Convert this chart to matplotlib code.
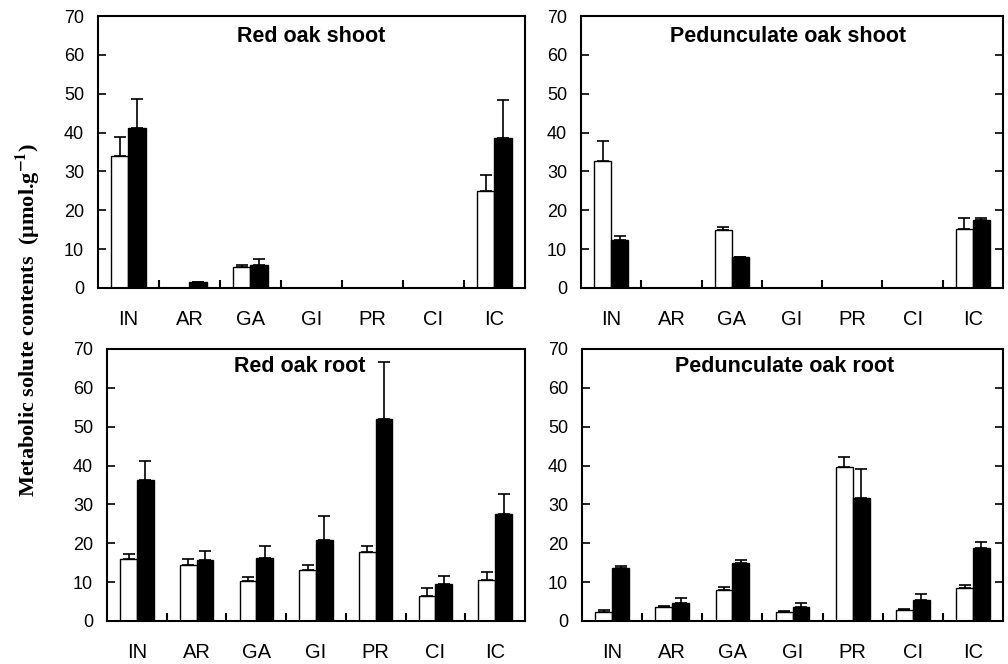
import numpy as np
import matplotlib
matplotlib.use("Agg")
from matplotlib import pyplot as plt

solutes = ['IN', 'AR', 'GA', 'GI', 'PR', 'CI', 'IC']

# white = first treatment, black = second treatment; *_err = upper SE
red_shoot_white = [34.0, 0, 5.4, 0, 0, 0, 25.0]
red_shoot_white_err = [4.9, 0, 0.6, 0, 0, 0, 4.1]
red_shoot_black = [41.1, 1.5, 6.0, 0, 0, 0, 38.7]
red_shoot_black_err = [7.6, 0.1, 1.4, 0, 0, 0, 9.8]

ped_shoot_white = [32.6, 0, 14.8, 0, 0, 0, 15.1]
ped_shoot_white_err = [5.2, 0, 0.9, 0, 0, 0, 2.9]
ped_shoot_black = [12.4, 0, 7.9, 0, 0, 0, 17.4]
ped_shoot_black_err = [1.0, 0, 0.2, 0, 0, 0, 0.6]

red_root_white = [16.0, 14.5, 10.3, 13.1, 17.7, 6.4, 10.6]
red_root_white_err = [1.3, 1.4, 1.0, 1.4, 1.6, 2.2, 2.1]
red_root_black = [36.3, 15.6, 16.3, 20.8, 52.1, 9.6, 27.5]
red_root_black_err = [4.8, 2.4, 3.0, 6.3, 14.6, 2.0, 5.2]

ped_root_white = [2.2, 3.7, 8.1, 2.2, 39.7, 2.9, 8.6]
ped_root_white_err = [0.6, 0.2, 0.7, 0.3, 2.5, 0.3, 0.7]
ped_root_black = [13.6, 4.6, 14.8, 3.6, 31.7, 5.3, 18.7]
ped_root_black_err = [0.6, 1.4, 1.0, 1.0, 7.3, 1.7, 1.7]

plt.rcParams['font.family'] = ['Liberation Sans', 'DejaVu Sans']
plt.rcParams['mathtext.fontset'] = 'stix'

fig = plt.figure(figsize=(10.08, 6.64), dpi=100)

panels = [
    ([0.0972, 0.5663, 0.4236, 0.4096], 'Red oak shoot', 0.5, 0.923,
     red_shoot_white, red_shoot_white_err, red_shoot_black, red_shoot_black_err, False),
    ([0.5764, 0.5663, 0.4187, 0.4096], 'Pedunculate oak shoot', 0.49, 0.923,
     ped_shoot_white, ped_shoot_white_err, ped_shoot_black, ped_shoot_black_err, True),
    ([0.1062, 0.0648, 0.4147, 0.4096], 'Red oak root', 0.46, 0.934,
     red_root_white, red_root_white_err, red_root_black, red_root_black_err, False),
    ([0.5774, 0.0648, 0.4177, 0.4096], 'Pedunculate oak root', 0.48, 0.934,
     ped_root_white, ped_root_white_err, ped_root_black, ped_root_black_err, True),
]

x = np.arange(len(solutes))
w = 0.28

for rect, title, tx, ty, wv, we, bv, be, right_ticks in panels:
    ax = fig.add_axes(rect)
    wv = np.array(wv); we = np.array(we)
    bv = np.array(bv); be = np.array(be)
    ax.bar(x - w / 2, wv, w, color='white', edgecolor='black', linewidth=1.0, zorder=2)
    ax.bar(x + w / 2, bv, w, color='black', edgecolor='black', linewidth=1.0, zorder=2)
    m = we > 0
    ax.errorbar(x[m] - w / 2, wv[m], yerr=[np.zeros(m.sum()), we[m]], fmt='none',
                ecolor='black', elinewidth=1.2, capsize=4, capthick=1.2, zorder=1)
    m = be > 0
    ax.errorbar(x[m] + w / 2, bv[m], yerr=[np.zeros(m.sum()), be[m]], fmt='none',
                ecolor='black', elinewidth=1.2, capsize=4, capthick=1.2, zorder=1)

    ax.set_xlim(-0.5, 6.5)
    ax.set_ylim(0, 70)
    ax.set_yticks(range(0, 71, 10))
    ax.set_xticks(x)
    ax.set_xticklabels(solutes, fontsize=14.5)
    ax.set_xticks(np.arange(0.5, 6, 1), minor=True)
    ax.tick_params(axis='x', which='major', length=0, pad=16)
    ax.tick_params(axis='x', which='minor', direction='in', length=6, width=1.5)
    ax.tick_params(axis='y', direction='in', length=6, width=1.2, labelsize=13, pad=10,
                   right=right_ticks)
    for s in ax.spines.values():
        s.set_linewidth(1.5)
    ax.text(tx, ty, title, transform=ax.transAxes, ha='center', va='center',
            fontsize=15.5, fontweight='bold')

fig.text(0.028, 0.518, 'Metabolic solute contents  (µmol.g$^{\\mathbf{-1}}$)',
         rotation=90, ha='center', va='center', fontsize=16, fontweight='bold',
         family='Liberation Serif')

fig.savefig('out.png', dpi=100)
